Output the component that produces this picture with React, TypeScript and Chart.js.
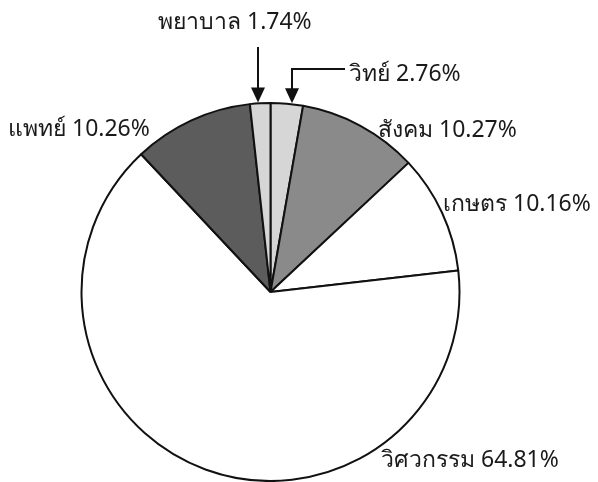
import React, { useEffect, useRef } from "react";
import { Chart, registerables } from "chart.js";

Chart.register(...registerables);

const categories = ["วิทย์", "สังคม", "เกษตร", "วิศวกรรม", "แพทย์", "พยาบาล"];
const shares = [2.76, 10.27, 10.16, 64.81, 10.26, 1.74];
const sliceColors = ["#d6d6d6", "#8a8a8a", "#ffffff", "#ffffff", "#5c5c5c", "#d6d6d6"];

// label placement (layout only): left x, centre y, optional arrow
const labelLayout = [
  { x: 349, y: 74, arrow: { path: [[345, 69], [292, 69]], tipX: 292 } },
  { x: 378, y: 130 },
  { x: 443, y: 204 },
  { x: 381, y: 460 },
  { x: 8, y: 129 },
  { x: 158, y: 22, arrow: { path: [[258, 47]], tipX: 258 } },
];

const FONT = '23px "Noto Sans", "DejaVu Sans", sans-serif';

const labelPlugin = {
  id: "thaiLabels",
  afterDraw(chart: any) {
    const ctx = chart.ctx;
    const meta = chart.getDatasetMeta(0);
    ctx.save();
    ctx.font = FONT;
    ctx.fillStyle = "#1a1a1a";
    ctx.textBaseline = "middle";
    ctx.textAlign = "left";
    meta.data.forEach((arc: any, i: number) => {
      const lay = labelLayout[i];
      const text = `${categories[i]} ${shares[i].toFixed(2)}%`;
      ctx.fillText(text, lay.x, lay.y);
      if (lay.arrow) {
        const props = arc.getProps(["x", "y", "outerRadius"], true);
        const tx = lay.arrow.tipX;
        const dx = tx - props.x;
        const tipY = props.y - Math.sqrt(props.outerRadius * props.outerRadius - dx * dx) - 1;
        ctx.strokeStyle = "#111";
        ctx.lineWidth = 2;
        ctx.beginPath();
        const pts = lay.arrow.path;
        ctx.moveTo(pts[0][0], pts[0][1]);
        for (let k = 1; k < pts.length; k++) ctx.lineTo(pts[k][0], pts[k][1]);
        ctx.lineTo(tx, tipY - 12);
        ctx.stroke();
        ctx.beginPath();
        ctx.moveTo(tx - 7, tipY - 15);
        ctx.lineTo(tx + 7, tipY - 15);
        ctx.lineTo(tx, tipY);
        ctx.closePath();
        ctx.fillStyle = "#111";
        ctx.fill();
        ctx.fillStyle = "#1a1a1a";
      }
    });
    ctx.restore();
  },
};

export default function App() {
  const ref = useRef<HTMLCanvasElement>(null);
  useEffect(() => {
    if (!ref.current) return;
    const chart = new Chart(ref.current, {
      type: "pie",
      data: {
        labels: categories,
        datasets: [
          {
            data: shares,
            backgroundColor: sliceColors,
            borderColor: "#111",
            borderWidth: 2,
            hoverOffset: 0,
          },
        ],
      },
      options: {
        responsive: false,
        animation: false,
        layout: { padding: { left: 80.5, right: 137.5, top: 102, bottom: 0 } },
        plugins: {
          legend: { display: false },
          tooltip: { enabled: false },
        },
      },
      plugins: [labelPlugin],
    });
    return () => chart.destroy();
  }, []);
  return (
    <div style={{ position: "fixed", left: 0, top: 0, width: 598, height: 482, background: "#fff" }}>
      <canvas ref={ref} width={598} height={482} style={{ width: 598, height: 482 }} />
    </div>
  );
}
